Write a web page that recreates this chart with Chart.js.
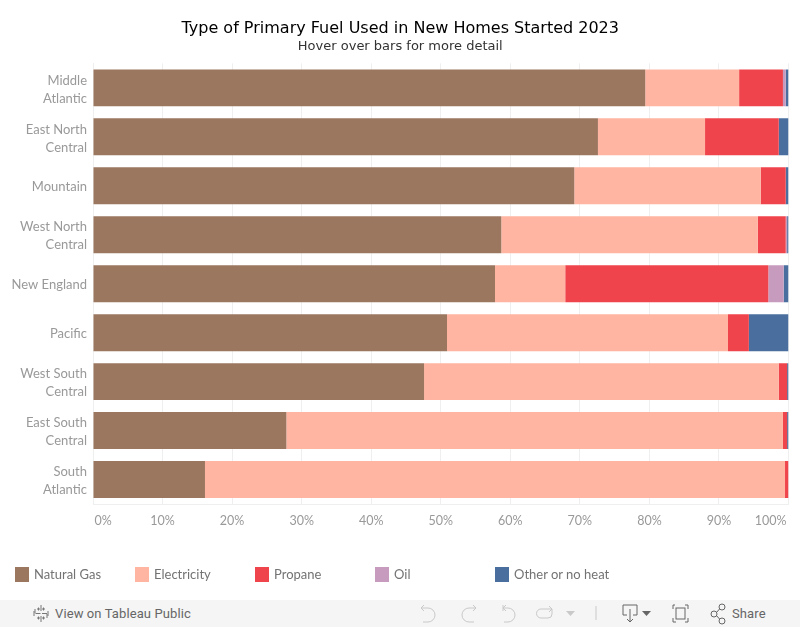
<!DOCTYPE html>
<html><head><meta charset="utf-8">
<style>
html,body{margin:0;padding:0;background:#fff;width:800px;height:627px;overflow:hidden}
#wrap{position:relative;width:800px;height:627px}
canvas{position:absolute;left:0;top:0}
.lg{position:absolute;top:567px;height:15px;font:13px Lato,sans-serif;color:#737373;line-height:15px}
.lg i{position:absolute;left:0;top:0;width:14px;height:15px}
.lg span{position:absolute;left:19px;white-space:nowrap}
#bar{position:absolute;left:0;top:600px;width:800px;height:27px;background:#f5f5f5}
#bar svg{position:absolute;left:0;top:0}
.tb{position:absolute;top:6px;font:400 13px Roboto,sans-serif;color:#666;line-height:16px;white-space:nowrap;letter-spacing:.1px}
</style></head><body>
<div id="wrap"><canvas id="c" width="800" height="627"></canvas><div id="legend"></div>
<div id="bar">
<svg width="800" height="27" fill="none" stroke-width="1">
<g stroke="#777"><path d="M41 5v6M41 16v6M35.5 13.5h5M42 13.5h5M35 9v4M47 14v4M37 9h3M37 18h3M42 9h3M42 18h3M38.5 7.5v3M43.5 7.5v3M38.5 16.5v3M43.5 16.5v3M34 11v5M48 11v5"/></g>
<g stroke="#c9c9c9"><path d="M421 8h7a7 7 0 0 1 0 14h-5M421 8l3-3M421 8l3 3"/><path d="M476 8h-7a7 7 0 0 0 0 14h5M476 8l-3-3M476 8l-3 3"/><path d="M503 5v6M503 8h5a7 7 0 0 1 0 14h-4M503 8l3-3M503 8l3 3"/><path d="M552 9h-11a4 4 0 0 0 0 9h7a4 4 0 0 0 4-4v-5M552 9l-3-3M552 9l-3 3"/><path d="M596 6v14"/></g>
<path d="M566 11h9l-4.500 5z" fill="#c9c9c9"/>
<g stroke="#666"><path d="M623 5h14v10h-4M627 15h-4V5M630 9v13M627 19l3 3 3-3"/><path d="M675 5h-2v4M685 5h3v4M688 18v4h-3M673 18v4h3"/><rect x="676" y="8" width="9" height="11"/><circle cx="722" cy="7" r="3"/><circle cx="722" cy="21" r="3"/><circle cx="714" cy="14" r="3"/><path d="M716.500 12.500l3-3.500M716.500 15.500l3 3.500"/></g>
<path d="M642 11h9l-4.500 5z" fill="#666"/>
</svg>
<div class="tb" style="left:55px;">View on Tableau Public</div>
<div class="tb" style="left:732px;">Share</div>
</div></div>
<script src="https://cdn.jsdelivr.net/npm/chart.js@4"></script>
<script>
const categories=[["Middle","Atlantic"],["East North","Central"],"Mountain",["West North","Central"],"New England","Pacific",["West South","Central"],["East South","Central"],["South","Atlantic"]];
const naturalGas=[79.4,72.6,69.2,58.7,57.8,50.9,47.6,27.8,16.1];
const electricity=[13.5,15.4,26.8,36.9,10.1,40.4,51.0,71.4,83.4];
const propane=[6.3,10.6,3.6,4.0,29.2,3.0,1.2,0.6,0.5];
const oil=[0.4,0,0,0.2,2.2,0,0,0,0];
const otherOrNoHeat=[0.4,1.4,0.4,0.2,0.7,5.7,0.2,0.2,0];
const xTicks=[0,10,20,30,40,50,60,70,80,90,100];
const seriesNames=["Natural Gas","Electricity","Propane","Oil","Other or no heat"];
const seriesColors=["#9c7760","#ffb5a1","#ef444b","#c69bbe","#4a6f9e"];
const seriesValues=[naturalGas,electricity,propane,oil,otherOrNoHeat];
const legendLefts=[15,135,255,375,495];
const labelShift={
 id:'labelShift',
 beforeDraw(ch){
  const s=ch.scales.x,it=s.getLabelItems();
  if(it.length){
   it[0].options.textAlign='left';
   it[it.length-1].options.textAlign='right';
   it[0].options.translation=[s.getPixelForValue(0)+1.5,it[0].options.translation[1]];
   it[it.length-1].options.translation=[s.getPixelForValue(100)-2,it[it.length-1].options.translation[1]];
  }
  const y=ch.scales.y,iy=y.getLabelItems();
  iy.forEach((item,i)=>{item.options.translation=[item.options.translation[0],y.getPixelForTick(i)+1.5];});
 }
};
new Chart(document.getElementById('c'),{
 type:'bar',
 data:{labels:categories,datasets:seriesNames.map((n,i)=>({label:n,data:seriesValues[i],backgroundColor:seriesColors[i],borderWidth:0,barPercentage:37/49,categoryPercentage:1}))},
 plugins:[labelShift],
 options:{
  indexAxis:'y',responsive:false,animation:false,
  layout:{autoPadding:false,padding:{left:12,right:11.5,top:19,bottom:93}},
  plugins:{
   legend:{display:false},tooltip:{enabled:false},
   title:{display:true,text:"Type of Primary Fuel Used in New Homes Started 2023",color:'#000',font:{family:'DejaVu Sans',size:16,weight:'normal',lineHeight:1.2},padding:{top:0,bottom:0}},
   subtitle:{display:true,text:"Hover over bars for more detail",color:'#333',font:{family:'DejaVu Sans',size:13,weight:'normal',lineHeight:1.2},padding:{top:1,bottom:8.6}}
  },
  scales:{
   x:{type:'linear',stacked:true,min:0,max:100,afterBuildTicks(a){a.ticks=xTicks.map(v=>({value:v}))},afterFit(a){a.height=30;a.paddingLeft=0;a.paddingRight=0},
      grid:{color:'#efefef',drawTicks:false,lineWidth:1},border:{color:'#efefef'},
      ticks:{color:'#999',padding:9,maxRotation:0,autoSkip:false,font:{family:'Lato',size:12.5},callback:v=>v+'%'}},
   y:{stacked:true,afterFit(a){a.width=81},grid:{display:false,drawTicks:false},border:{color:'#efefef'},
      ticks:{color:'#999',padding:6,autoSkip:false,font:{family:'Lato',size:13,lineHeight:1.385}}}
  }
 }
});
const lg=document.getElementById('legend');
seriesNames.forEach((n,i)=>{const d=document.createElement('div');d.className='lg';d.style.left=legendLefts[i]+'px';
 d.innerHTML='<i style="background:'+seriesColors[i]+'"></i><span>'+n+'</span>';lg.appendChild(d);});
</script></body></html>
